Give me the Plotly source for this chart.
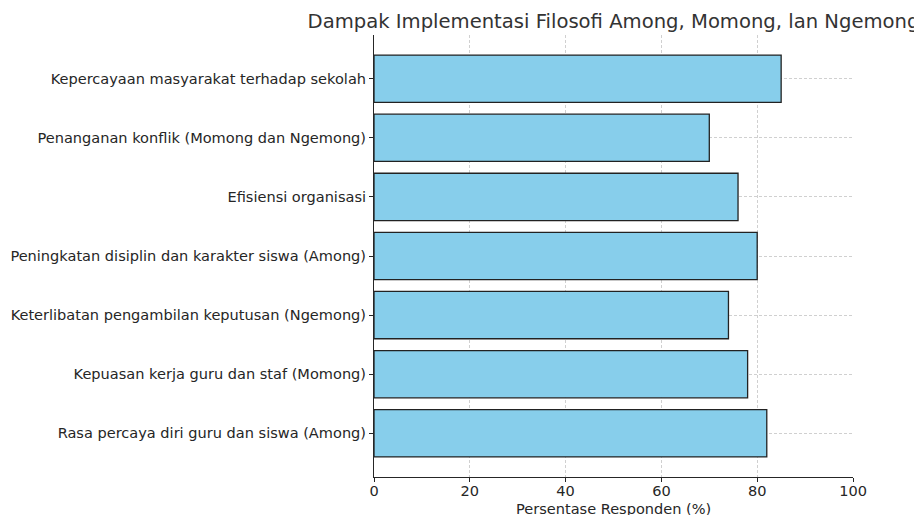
import plotly.graph_objects as go

categories = [
    "Rasa percaya diri guru dan siswa (Among)",
    "Kepuasan kerja guru dan staf (Momong)",
    "Keterlibatan pengambilan keputusan (Ngemong)",
    "Peningkatan disiplin dan karakter siswa (Among)",
    "Efisiensi organisasi",
    "Penanganan konflik (Momong dan Ngemong)",
    "Kepercayaan masyarakat terhadap sekolah",
]
values = [82, 78, 74, 80, 76, 70, 85]
x_ticks = [0, 20, 40, 60, 80, 100]

title_text = "Dampak Implementasi Filosofi Among, Momong, lan Ngemong"
x_label = "Persentase Responden (%)"

# page body has an 8px default margin; size the figure to fill the rest
OFF = 8
W, H = 922 - OFF, 515 - OFF
L, R, T, B = 374 - OFF, 69, 35 - OFF, 38

fig = go.Figure(
    go.Bar(
        x=values,
        y=list(range(len(categories))),
        orientation="h",
        width=0.8,
        marker=dict(color="#87CEEB", line=dict(color="#222222", width=1.3)),
        hoverinfo="x+y",
    )
)

font = "DejaVu Sans, sans-serif"
tick_size = 14.55
fig.update_layout(
    width=W,
    height=H,
    margin=dict(l=L, r=R, t=T, b=B, pad=0, autoexpand=False),
    paper_bgcolor="white",
    plot_bgcolor="white",
    showlegend=False,
    font=dict(family=font, size=tick_size, color="#262626"),
    title=dict(
        text=title_text,
        x=(L + (W - L - R) / 2) / W,
        xanchor="center",
        xref="container",
        y=1 - (21 - OFF) / H,
        yref="container",
        yanchor="middle",
        font=dict(family=font, size=19.6, color="#333333"),
    ),
)

axis_common = dict(
    automargin=False,
    ticks="outside",
    ticklen=4,
    tickwidth=1,
    tickcolor="#262626",
    showline=True,
    linecolor="#262626",
    linewidth=1.1,
    showgrid=True,
    gridcolor="#d0d0d0",
    gridwidth=0.8,
    griddash="3px,2px",
    zeroline=False,
    layer="above traces",
    tickfont=dict(size=tick_size, color="#262626"),
)

fig.update_xaxes(range=[0, 100], tickvals=x_ticks, ticklabelstandoff=-4, **axis_common)
fig.update_yaxes(
    range=[-0.74, 6.74],
    tickvals=list(range(len(categories))),
    ticktext=categories,
    **axis_common,
)

fig.add_annotation(
    text=x_label,
    xref="paper",
    yref="paper",
    x=0.5,
    y=-(508 - (515 - B)) / (H - T - B),
    xanchor="center",
    yanchor="middle",
    showarrow=False,
    font=dict(family=font, size=tick_size, color="#262626"),
)

fig.write_html("out.html")
